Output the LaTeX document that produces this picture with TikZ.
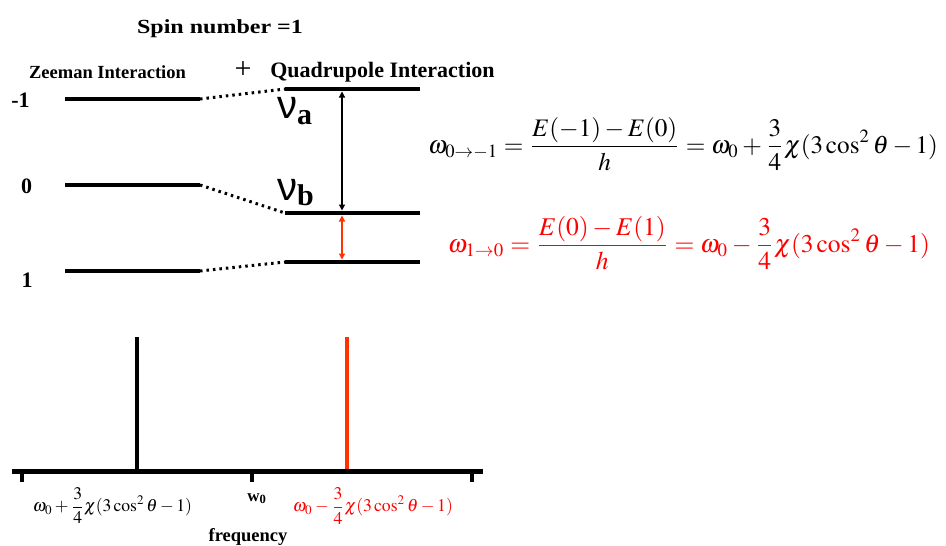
\documentclass[tikz,border=0pt]{standalone}
\usepackage{mathptmx}
\usepackage[no-math]{fontspec}
\setmainfont{Liberation Serif}
\newfontfamily\nufont{Liberation Sans}
\newfontfamily\subfont{Liberation Serif}
\usetikzlibrary{arrows.meta}
\definecolor{eqred}{RGB}{255,0,0}
\definecolor{stickred}{RGB}{255,51,0}
\begin{document}
\begin{tikzpicture}[x=1pt,y=-1pt,
  level/.style={line width=4.5pt},
  conn/.style={line width=3pt, dash pattern=on 2.5pt off 4pt},
  trans/.style={line width=1.2pt, {Triangle[length=6pt,width=6pt]}-{Triangle[length=6pt,width=6pt]}},
  stick/.style={line width=4pt},
  tick/.style={line width=4pt},
  lbl/.style={font=\bfseries\fontsize{22}{22}\selectfont, inner sep=0pt, anchor=base},
  ttl/.style={inner sep=0pt, anchor=base}]
\useasboundingbox (0,0) rectangle (946,546);

% titles
\node[ttl, font=\bfseries\fontsize{20}{20}\selectfont] (spin) at (220,33) {\scalebox{1.2}[1]{Spin number =1}};
\node[ttl, font=\bfseries\fontsize{18.5}{18.5}\selectfont] (zee) at (107.5,78) {Zeeman Interaction};
\node[ttl, font=\fontsize{30}{30}\selectfont] (plus) at (243,78) {+};
\node[ttl, font=\bfseries\fontsize{22}{22}\selectfont] (quad) at (382.5,77) {Quadrupole Interaction};

% level labels
\node[lbl] (lm1) at (20.5,107) {-1};
\node[lbl] (l0) at (26.5,193) {0};
\node[lbl] (l1) at (27,287) {1};

% Zeeman levels
\coordinate (zm1a) at (65,99);  \coordinate (zm1b) at (200,99);
\coordinate (z0a) at (65,185);  \coordinate (z0b) at (200,185);
\coordinate (z1a) at (65,271);  \coordinate (z1b) at (200,271);
\draw[level] (zm1a) -- (zm1b);
\draw[level] (z0a) -- (z0b);
\draw[level] (z1a) -- (z1b);

% Quadrupole levels
\coordinate (qm1a) at (285,89);  \coordinate (qm1b) at (420,89);
\coordinate (q0a) at (285,213);  \coordinate (q0b) at (420,213);
\coordinate (q1a) at (285,262);  \coordinate (q1b) at (420,262);
\draw[level] (qm1a) -- (qm1b);
\draw[level] (q0a) -- (q0b);
\draw[level] (q1a) -- (q1b);

% dotted connections
\draw[conn] (zm1b) -- (qm1a);
\draw[conn] (z0b) -- (q0a);
\draw[conn] (z1b) -- (q1a);

% transitions
\coordinate (ta) at (342,91.5);
\coordinate (tb) at (342,210.5);
\coordinate (tc) at (342,215.5);
\coordinate (td) at (342,259.5);
\draw[trans] (ta) -- (tb);
\draw[trans, stickred] (tc) -- (td);

% nu labels
\node[inner sep=0pt, anchor=base west] (nua) at (277,118)
  {\nufont\fontsize{40}{40}\selectfont ν\raisebox{-6pt}{\subfont\bfseries\fontsize{30}{30}\selectfont a}};
\node[inner sep=0pt, anchor=base west] (nub) at (277,200)
  {\nufont\fontsize{40}{40}\selectfont ν\raisebox{-5pt}{\subfont\bfseries\fontsize{30}{30}\selectfont b}};

% equations
\node[inner sep=0pt] (eq1) at (683,144)
  {\resizebox{510pt}{!}{$\displaystyle \omega_{0\rightarrow -1}=\frac{E(-1)-E(0)}{h}=\omega_0+\frac{3}{4}\chi(3\cos^2\theta-1)$}};
\node[inner sep=0pt, text=eqred] (eq2) at (689,243)
  {\resizebox{482pt}{!}{$\displaystyle \omega_{1\rightarrow 0}=\frac{E(0)-E(1)}{h}=\omega_0-\frac{3}{4}\chi(3\cos^2\theta-1)$}};

% spectrum
\coordinate (ax1) at (12,471); \coordinate (ax2) at (483,471);
\draw[line width=5pt] (ax1) -- (ax2);
\coordinate (t1) at (22,471); \coordinate (t1e) at (22,482);
\coordinate (t2) at (252,471); \coordinate (t2e) at (252,482);
\coordinate (t3) at (472,471); \coordinate (t3e) at (472,482);
\draw[tick] (t1) -- (t1e);
\draw[tick] (t2) -- (t2e);
\draw[tick] (t3) -- (t3e);
\coordinate (s1a) at (137,337); \coordinate (s1b) at (137,469);
\coordinate (s2a) at (347,337); \coordinate (s2b) at (347,469);
\draw[stick] (s1a) -- (s1b);
\draw[stick, stickred] (s2a) -- (s2b);

% axis labels
\node[inner sep=0pt] (f1) at (112.5,506)
  {\resizebox{159pt}{!}{$\displaystyle \omega_0+\frac{3}{4}\chi(3\cos^2\theta-1)$}};
\node[inner sep=0pt, text=eqred] (f2) at (373,506)
  {\resizebox{160pt}{!}{$\displaystyle \omega_0-\frac{3}{4}\chi(3\cos^2\theta-1)$}};
\node[inner sep=0pt, anchor=base, font=\bfseries\fontsize{17}{17}\selectfont] (w0) at (257,501) {w\textsubscript{0}};
\node[inner sep=0pt, anchor=base, font=\bfseries\fontsize{18.5}{18.5}\selectfont] (freq) at (248,541) {frequency};
\end{tikzpicture}
\end{document}
